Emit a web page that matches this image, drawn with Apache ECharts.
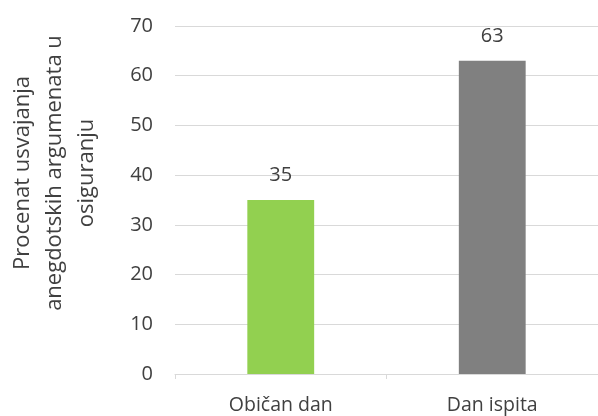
<!DOCTYPE html>
<html><head><meta charset="utf-8">
<script src="https://cdn.jsdelivr.net/npm/echarts@6/dist/echarts.min.js"></script>
<style>html,body{margin:0;padding:0;background:#fff}#c{width:598px;height:416px}</style>
</head><body><div id="c"></div>
<script>
var categories = ['Običan dan', 'Dan ispita'];
var values = [35, 63];
var barColors = ['#92D050', '#808080'];
var yTicks = [0, 10, 20, 30, 40, 50, 60, 70];
var yName = 'Procenat usvajanja\nanegdotskih argumenata u\nosiguranju';

var chart = echarts.init(document.getElementById('c'));
var font = 'Open Sans';
chart.setOption({
  animation: false,
  grid: {left: 175, right: 0, top: 26, bottom: 42, containLabel: false, outerBoundsMode: 'none'},
  xAxis: {
    type: 'category', data: categories,
    axisLine: {lineStyle: {color: '#d9d9d9', width: 1}},
    axisTick: {show: true, length: 5, lineStyle: {color: '#d9d9d9'}},
    axisLabel: {color: '#404040', fontFamily: font, fontSize: 19.5, margin: 21}
  },
  yAxis: {
    type: 'value', min: yTicks[0], max: yTicks[yTicks.length - 1], interval: 10,
    name: yName, nameLocation: 'middle', nameRotate: 90, nameGap: 72,
    nameTextStyle: {color: '#404040', fontFamily: font, fontSize: 22, lineHeight: 32, align: 'center', padding: [0, 0, 0, 54]},
    axisLine: {show: false}, axisTick: {show: false},
    axisLabel: {color: '#404040', fontFamily: font, fontSize: 20, margin: 22},
    splitLine: {lineStyle: {color: '#d9d9d9', width: 1}}
  },
  series: [{
    type: 'bar', barWidth: '31.6%',
    data: values.map(function (v, i) { return {value: v, itemStyle: {color: barColors[i]}}; }),
    label: {show: true, position: 'top', distance: 15, color: '#404040', fontFamily: font, fontSize: 20}
  }]
});
</script></body></html>
